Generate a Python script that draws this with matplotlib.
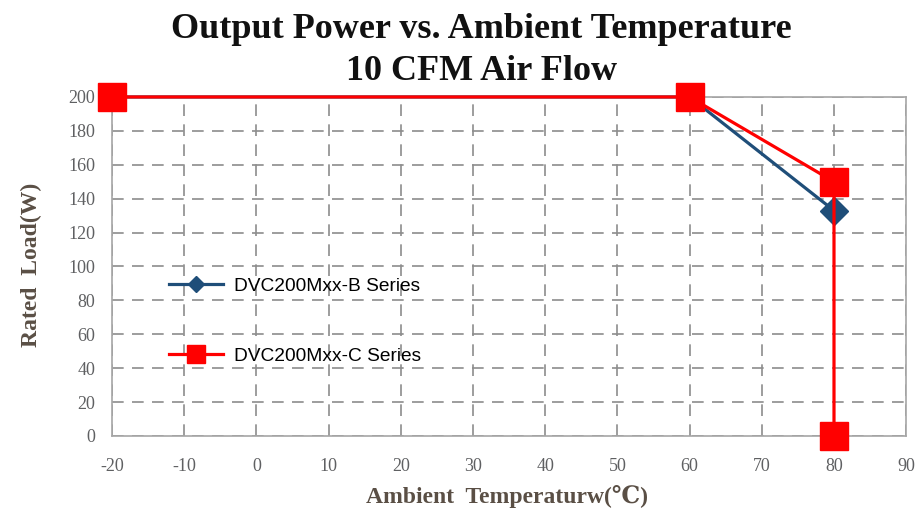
import matplotlib
matplotlib.use("Agg")
import matplotlib.pyplot as plt
from matplotlib.lines import Line2D

plt.rcParams["axes.unicode_minus"] = False

# Data
b_temp = [-20, 60, 80]
b_load = [200, 200, 133]
c_temp = [-20, 60, 80, 80]
c_load = [200, 200, 150, 0]
b_label = "DVC200Mxx-B Series"
c_label = "DVC200Mxx-C Series"
x_ticks = [-20, -10, 0, 10, 20, 30, 40, 50, 60, 70, 80, 90]
y_ticks = [0, 20, 40, 60, 80, 100, 120, 140, 160, 180, 200]
title1 = "Output Power vs. Ambient Temperature"
title2 = "10 CFM Air Flow"
xlabel = "Ambient  Temperaturw(℃)"
ylabel = "Rated  Load(W)"

serif = ["Liberation Serif", "DejaVu Serif", "DejaVu Sans"]
blue = "#1f4e79"
red = "#ff0000"

fig = plt.figure(figsize=(9.2, 5.15), dpi=100)
ax = fig.add_axes([0.1217, 0.1534, 0.8633, 0.6583])

ax.plot(b_temp, b_load, color=blue, lw=2.3, marker="D", ms=14,
        markerfacecolor=blue, markeredgecolor=blue, clip_on=False, zorder=3)
ax.plot(c_temp, c_load, color=red, lw=2.3, marker="s", ms=20,
        markerfacecolor=red, markeredgecolor=red, clip_on=False, zorder=4)

ax.set_xlim(-20, 90)
ax.set_ylim(0, 200)
ax.set_xticks(x_ticks)
ax.set_yticks(y_ticks)
ax.tick_params(length=0, labelsize=13, colors="#5f6062")
ax.tick_params(axis="x", pad=16)
ax.tick_params(axis="y", pad=12)
for lab in ax.get_xticklabels() + ax.get_yticklabels():
    lab.set_family(serif)
ax.grid(True, color="#8c8c8c", lw=1.2, ls=(0, (7, 5)))
ax.set_axisbelow(True)
for s in ax.spines.values():
    s.set_color("#a6a6a6")
    s.set_linewidth(1.2)

fig.text(0.523, 0.943, title1, ha="center", va="center",
         fontsize=26, fontweight="bold", family=serif, color="#111111")
fig.text(0.523, 0.861, title2, ha="center", va="center",
         fontsize=26, fontweight="bold", family=serif, color="#111111")

fig.text(0.551, 0.035, xlabel, ha="center", va="center", fontsize=17,
         fontweight="bold", family=serif, color="#5a4f45")
fig.text(0.034, 0.485, ylabel, ha="center", va="center", rotation=90, fontsize=17,
         fontweight="bold", family=serif, color="#5a4f45")

handles = [Line2D([], [], color=blue, lw=2.3, marker="D", ms=8),
           Line2D([], [], color=red, lw=2.3, marker="s", ms=13)]
leg = ax.legend(handles, [b_label, c_label], loc="upper left",
                bbox_to_anchor=(0.05, 0.518), frameon=False, handlelength=2.8,
                labelspacing=2.72, handletextpad=0.6,
                prop={"family": "Liberation Sans", "size": 13.8})

fig.savefig("out.png", dpi=100, facecolor="white")
